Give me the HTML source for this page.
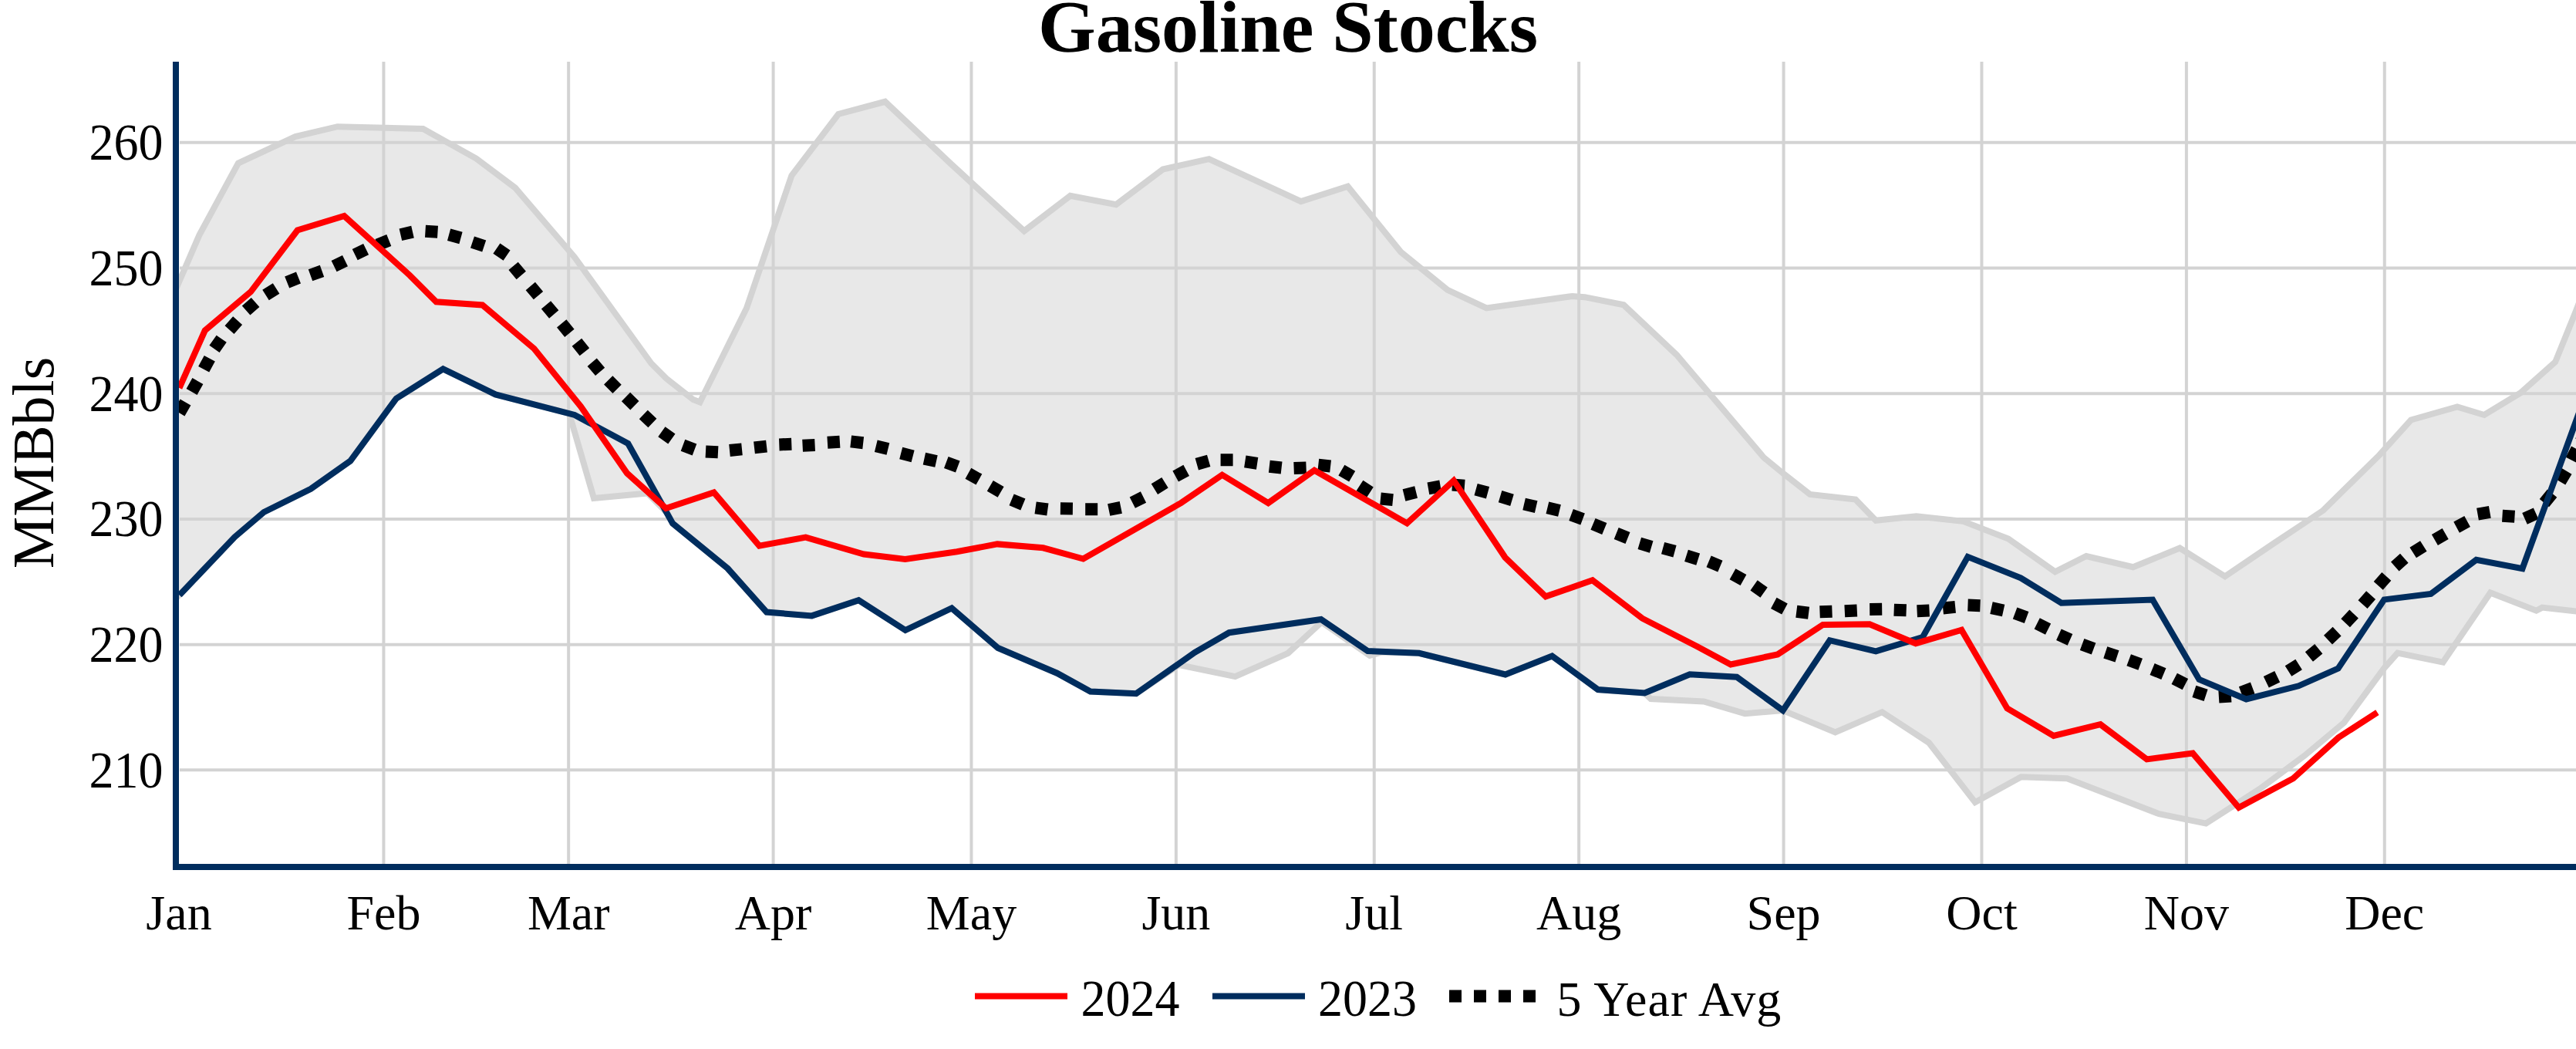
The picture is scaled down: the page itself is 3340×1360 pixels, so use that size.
<!DOCTYPE html>
<html><head><meta charset="utf-8"><title>Gasoline Stocks</title>
<style>
html,body{margin:0;padding:0;background:#fff;width:3340px;height:1360px;overflow:hidden;}
svg{display:block;}
text{font-family:"Liberation Serif",serif;fill:#000;}
</style></head><body>
<svg width="3340" height="1360" viewBox="0 0 3340 1360">
<defs><clipPath id="pc"><rect x="232" y="80" width="3200" height="1040"/></clipPath></defs>
<rect x="0" y="0" width="3340" height="1360" fill="#fff"/>

<g clip-path="url(#pc)">
<polygon points="228.0,375.0 258.4,304.8 308.9,211.5 383.0,177.0 437.5,164.2 548.5,167.0 617.5,205.5 668.0,243.5 745.0,333.5 844.3,471.0 864.1,490.8 898.8,518.1 907.5,521.5 968.0,399.5 1026.4,227.6 1087.0,148.0 1147.6,131.8 1233.0,212.5 1327.9,299.5 1387.7,253.8 1447.1,265.2 1507.8,219.5 1567.6,206.2 1686.8,261.1 1747.5,241.7 1816.2,326.6 1876.8,375.9 1927.3,399.4 2038.5,384.0 2054.7,385.2 2105.2,395.3 2173.9,460.0 2286.7,593.0 2312.9,614.5 2346.8,641.0 2405.9,647.6 2432.2,674.8 2484.7,669.2 2545.4,675.8 2604.0,698.5 2664.6,741.3 2705.0,721.0 2765.7,735.2 2826.3,710.6 2884.9,747.3 2947.5,704.9 2981.9,682.0 3012.2,661.7 3085.0,590.0 3126.0,544.5 3186.0,527.3 3221.0,538.0 3267.9,509.4 3313.2,469.2 3340.0,403.0 3350.0,377.0 3350.0,793.5 3296.2,787.6 3288.5,791.7 3229.0,768.5 3167.6,858.6 3108.7,846.7 3091.0,866.6 3039.1,937.1 2988.0,979.7 2929.8,1022.9 2860.2,1067.6 2799.4,1055.2 2680.1,1009.2 2620.5,1007.2 2560.9,1040.2 2500.9,962.8 2440.3,923.2 2379.6,949.4 2311.7,921.1 2262.4,925.2 2209.1,909.4 2140.4,906.1 2132.4,898.5 2071.8,894.0 2012.4,850.5 1951.8,874.5 1840.0,846.8 1792.0,845.5 1776.0,850.0 1713.5,806.5 1670.1,846.8 1601.5,877.1 1528.8,862.0 1473.1,899.3 1413.8,896.5 1370.5,872.7 1293.9,840.0 1234.0,788.5 1173.9,817.0 1113.3,778.2 1052.6,798.4 994.0,793.6 943.5,737.0 872.2,678.6 866.0,666.0 839.5,639.5 770.0,646.0 738.0,536.0 642.4,511.4 574.5,478.3 513.8,516.7 454.3,597.6 403.0,633.8 342.1,664.0 304.2,696.3 228.0,776.0" fill="#e8e8e8" stroke="none"/>
<g stroke="#d3d3d3" stroke-width="4"><line x1="233" y1="998.35" x2="3340" y2="998.35"/><line x1="233" y1="835.64" x2="3340" y2="835.64"/><line x1="233" y1="672.93" x2="3340" y2="672.93"/><line x1="233" y1="510.22" x2="3340" y2="510.22"/><line x1="233" y1="347.51" x2="3340" y2="347.51"/><line x1="233" y1="184.80" x2="3340" y2="184.80"/><line x1="497.43" y1="80" x2="497.43" y2="1120"/><line x1="737.16" y1="80" x2="737.16" y2="1120"/><line x1="1002.59" y1="80" x2="1002.59" y2="1120"/><line x1="1259.45" y1="80" x2="1259.45" y2="1120"/><line x1="1524.88" y1="80" x2="1524.88" y2="1120"/><line x1="1781.74" y1="80" x2="1781.74" y2="1120"/><line x1="2047.17" y1="80" x2="2047.17" y2="1120"/><line x1="2312.59" y1="80" x2="2312.59" y2="1120"/><line x1="2569.45" y1="80" x2="2569.45" y2="1120"/><line x1="2834.88" y1="80" x2="2834.88" y2="1120"/><line x1="3091.74" y1="80" x2="3091.74" y2="1120"/></g>
<polyline points="228.0,776.0 304.2,696.3 342.1,664.0 403.0,633.8 454.3,597.6 513.8,516.7 574.5,478.3 642.4,511.4 738.0,536.0 770.0,646.0 839.5,639.5 866.0,666.0 872.2,678.6 943.5,737.0 994.0,793.6 1052.6,798.4 1113.3,778.2 1173.9,817.0 1234.0,788.5 1293.9,840.0 1370.5,872.7 1413.8,896.5 1473.1,899.3 1528.8,862.0 1601.5,877.1 1670.1,846.8 1713.5,806.5 1776.0,850.0 1792.0,845.5 1840.0,846.8 1951.8,874.5 2012.4,850.5 2071.8,894.0 2132.4,898.5 2140.4,906.1 2209.1,909.4 2262.4,925.2 2311.7,921.1 2379.6,949.4 2440.3,923.2 2500.9,962.8 2560.9,1040.2 2620.5,1007.2 2680.1,1009.2 2799.4,1055.2 2860.2,1067.6 2929.8,1022.9 2988.0,979.7 3039.1,937.1 3091.0,866.6 3108.7,846.7 3167.6,858.6 3229.0,768.5 3288.5,791.7 3296.2,787.6 3350.0,793.5" fill="none" stroke="#d3d3d3" stroke-width="8"/>
<polyline points="228.0,375.0 258.4,304.8 308.9,211.5 383.0,177.0 437.5,164.2 548.5,167.0 617.5,205.5 668.0,243.5 745.0,333.5 844.3,471.0 864.1,490.8 898.8,518.1 907.5,521.5 968.0,399.5 1026.4,227.6 1087.0,148.0 1147.6,131.8 1233.0,212.5 1327.9,299.5 1387.7,253.8 1447.1,265.2 1507.8,219.5 1567.6,206.2 1686.8,261.1 1747.5,241.7 1816.2,326.6 1876.8,375.9 1927.3,399.4 2038.5,384.0 2054.7,385.2 2105.2,395.3 2173.9,460.0 2286.7,593.0 2312.9,614.5 2346.8,641.0 2405.9,647.6 2432.2,674.8 2484.7,669.2 2545.4,675.8 2604.0,698.5 2664.6,741.3 2705.0,721.0 2765.7,735.2 2826.3,710.6 2884.9,747.3 2947.5,704.9 2981.9,682.0 3012.2,661.7 3085.0,590.0 3126.0,544.5 3186.0,527.3 3221.0,538.0 3267.9,509.4 3313.2,469.2 3340.0,403.0 3350.0,377.0" fill="none" stroke="#d3d3d3" stroke-width="8"/>
<path d="M232.5 535.4L240.5 521.6M248.6 508.0L256.4 494.0M264.2 478.8L271.8 464.8M278.0 452.4L287.2 439.2M297.5 427.6L308.1 415.6M319.1 402.6L331.1 392.0M344.5 382.6L358.1 374.0M372.2 366.0L387.0 360.0M402.5 356.8L417.5 351.4M433.1 345.1L447.5 338.1M460.2 330.1L474.6 323.1M489.5 317.5L504.3 311.5M519.4 304.2L535.0 300.6M551.5 299.8L567.5 300.8M582.1 304.3L597.5 308.5M612.5 314.0L627.7 319.0M643.9 322.1L657.1 331.1M665.6 344.8L675.8 357.0M687.8 371.0L698.0 383.2M708.0 395.3L718.2 407.5M728.2 419.4L738.4 431.8M747.9 443.7L757.9 456.3M767.7 469.7L778.1 481.9M788.7 492.9L800.1 504.3M811.5 514.5L822.9 525.7M834.3 537.5L845.9 548.5M857.9 559.8L870.9 569.0M885.5 577.3L900.5 582.9M915.0 585.5L931.0 586.3M946.0 584.0L962.0 582.4M978.0 580.4L994.0 578.6M1010.3 576.4L1026.3 575.8M1040.6 577.7L1056.6 576.9M1072.9 573.8L1088.9 572.8M1103.2 572.4L1119.2 574.2M1135.8 578.3L1151.4 582.1M1168.2 587.4L1183.6 591.4M1198.4 594.6L1214.0 598.0M1226.8 599.4L1241.8 605.0M1255.4 613.8L1269.4 621.6M1283.8 629.9L1297.6 637.9M1311.6 647.8L1326.4 654.0M1342.6 658.3L1358.4 660.5M1374.9 659.3L1390.9 659.5M1407.2 660.2L1423.2 660.2M1437.7 661.0L1453.3 657.8M1468.3 651.7L1482.5 644.5M1496.9 634.1L1510.5 625.7M1524.2 617.5L1538.2 609.9M1551.8 601.8L1567.2 597.4M1582.6 596.3L1598.6 596.3M1614.3 598.4L1630.1 600.8M1645.8 604.7L1661.6 606.5M1677.6 607.1L1693.6 606.5M1709.3 602.7L1725.1 604.5M1739.4 609.7L1753.2 617.7M1763.0 629.5L1776.4 638.3M1790.0 646.5L1806.0 648.1M1820.5 641.9L1836.1 638.1M1851.9 633.3L1867.7 630.5M1883.0 628.5L1899.0 629.7M1913.6 634.6L1929.0 638.8M1945.1 643.7L1960.5 648.3M1976.1 653.5L1991.7 657.1M2006.4 658.3L2022.0 662.1M2037.1 667.5L2052.1 673.1M2065.5 679.3L2080.3 685.5M2095.7 691.5L2110.5 697.5M2125.8 704.4L2141.2 709.0M2156.1 710.6L2171.5 714.8M2186.5 720.4L2201.7 725.2M2215.6 727.9L2230.4 734.1M2246.5 744.3L2260.5 752.1M2274.1 758.9L2287.1 768.1M2299.8 781.9L2314.0 789.5M2329.3 792.8L2345.1 794.8M2359.5 793.3L2375.5 792.7M2391.8 792.2L2407.8 791.4M2424.2 789.9L2440.2 789.7M2455.7 790.7L2471.7 791.3M2485.6 792.2L2501.6 791.4M2519.2 788.5L2535.2 786.9M2551.5 784.6L2567.5 785.2M2582.0 788.1L2597.6 791.5M2612.6 795.0L2627.6 800.6M2641.2 808.4L2655.6 815.6M2669.4 822.8L2684.0 829.4M2699.6 835.5L2714.6 841.1M2729.8 845.9L2745.0 850.9M2760.2 855.7L2775.2 861.3M2790.6 867.5L2805.4 873.7M2819.2 879.8L2833.4 887.2M2844.9 896.4L2860.1 901.4M2876.9 903.4L2892.9 902.4M2905.7 897.7L2920.7 892.1M2938.3 884.2L2952.7 877.2M2967.0 870.1L2980.6 861.5M2993.9 851.5L3006.3 841.3M3018.5 829.6L3030.1 818.6M3041.1 807.7L3052.1 796.1M3063.5 783.6L3074.1 771.6M3083.7 759.4L3094.3 747.4M3105.3 734.4L3117.3 723.8M3128.7 716.5L3142.3 707.9M3156.9 700.0L3170.7 692.0M3185.1 683.6L3199.1 676.0M3212.5 666.7L3228.3 663.9M3244.5 668.7L3260.5 669.7M3273.5 672.4L3288.1 665.8M3298.9 652.1L3309.1 639.7M3319.4 624.5L3327.6 610.7M3333.9 596.4L3341.1 582.2M3346.3 572.1L3353.7 557.9" fill="none" stroke="#000" stroke-width="16"/>
<polyline points="232.7,771.6 304.2,696.3 342.1,664.0 403.0,633.8 454.3,597.6 513.8,516.7 574.5,478.3 642.4,511.4 745.0,538.0 814.3,575.0 872.2,678.6 943.5,737.0 994.0,793.6 1052.6,798.4 1113.3,778.2 1173.9,817.0 1234.0,788.5 1293.9,840.0 1370.5,872.7 1413.8,896.5 1473.1,899.3 1549.2,845.8 1593.6,820.2 1712.8,803.0 1773.4,844.0 1840.0,846.8 1951.8,874.5 2012.4,850.5 2071.8,894.0 2132.4,898.5 2190.9,874.3 2251.9,877.7 2311.7,921.1 2372.4,830.2 2432.2,844.3 2492.8,826.1 2551.4,721.9 2620.1,749.3 2672.7,781.7 2791.1,777.6 2851.4,880.9 2912.4,906.5 2980.3,889.3 3031.6,866.6 3091.3,777.4 3151.8,770.0 3210.7,725.8 3270.5,737.1 3345.0,532.3" fill="none" stroke="#002D5E" stroke-width="8"/>
<polyline points="232.5,503.0 265.7,428.5 325.1,378.3 385.7,298.5 446.3,280.0 531.2,356.9 565.6,391.3 625.5,395.4 692.5,452.0 753.0,527.0 813.0,613.5 863.5,659.0 925.6,638.5 984.5,707.6 1044.6,696.6 1120.0,718.5 1173.6,725.0 1240.7,715.2 1293.1,705.4 1352.5,710.3 1404.5,724.5 1531.2,652.1 1584.6,615.7 1644.4,652.1 1704.2,609.7 1824.3,678.4 1884.9,623.0 1951.6,722.8 2004.1,773.4 2064.8,752.3 2129.4,801.7 2200.2,838.0 2244.0,861.5 2304.9,848.4 2363.5,810.0 2424.1,809.2 2483.9,834.2 2543.3,816.8 2602.5,918.4 2662.7,954.0 2723.4,939.2 2783.5,984.4 2843.1,976.6 2902.8,1047.0 2973.3,1009.2 3032.0,956.2 3082.4,923.7" fill="none" stroke="#ff0000" stroke-width="8"/>
</g>
<rect x="224" y="80" width="8" height="1048" fill="#002D5E"/>
<rect x="224" y="1120" width="3116" height="8" fill="#002D5E"/>
<text transform="translate(211.5,1020.9) scale(1,1.07)" font-size="64" text-anchor="end">210</text>
<text transform="translate(211.5,858.1) scale(1,1.07)" font-size="64" text-anchor="end">220</text>
<text transform="translate(211.5,695.4) scale(1,1.07)" font-size="64" text-anchor="end">230</text>
<text transform="translate(211.5,532.7) scale(1,1.07)" font-size="64" text-anchor="end">240</text>
<text transform="translate(211.5,370.0) scale(1,1.07)" font-size="64" text-anchor="end">250</text>
<text transform="translate(211.5,207.3) scale(1,1.07)" font-size="64" text-anchor="end">260</text>
<text x="232.0" y="1205" font-size="64" text-anchor="middle">Jan</text>
<text x="497.4" y="1205" font-size="64" text-anchor="middle">Feb</text>
<text x="737.2" y="1205" font-size="64" text-anchor="middle">Mar</text>
<text x="1002.6" y="1205" font-size="64" text-anchor="middle">Apr</text>
<text x="1259.5" y="1205" font-size="64" text-anchor="middle">May</text>
<text x="1524.9" y="1205" font-size="64" text-anchor="middle">Jun</text>
<text x="1781.7" y="1205" font-size="64" text-anchor="middle">Jul</text>
<text x="2047.2" y="1205" font-size="64" text-anchor="middle">Aug</text>
<text x="2312.6" y="1205" font-size="64" text-anchor="middle">Sep</text>
<text x="2569.5" y="1205" font-size="64" text-anchor="middle">Oct</text>
<text x="2834.9" y="1205" font-size="64" text-anchor="middle">Nov</text>
<text x="3091.7" y="1205" font-size="64" text-anchor="middle">Dec</text>
<text transform="translate(68.6,600) rotate(-90)" font-size="76" text-anchor="middle">MMBbls</text>
<text x="1670" y="67" font-size="96" font-weight="bold" text-anchor="middle">Gasoline Stocks</text>
<line x1="1264" y1="1291.5" x2="1384" y2="1291.5" stroke="#ff0000" stroke-width="8"/>
<text transform="translate(1401.5,1317.3) scale(1,1.06)" font-size="64">2024</text>
<line x1="1572" y1="1291.5" x2="1692" y2="1291.5" stroke="#002D5E" stroke-width="8"/>
<text transform="translate(1709,1317.3) scale(1,1.06)" font-size="64">2023</text>
<line x1="1879" y1="1291.5" x2="1999" y2="1291.5" stroke="#000" stroke-width="16" stroke-dasharray="16,16"/>
<text x="2018.5" y="1317" font-size="64" textLength="290.8" lengthAdjust="spacing">5 Year Avg</text>
</svg>
</body></html>
